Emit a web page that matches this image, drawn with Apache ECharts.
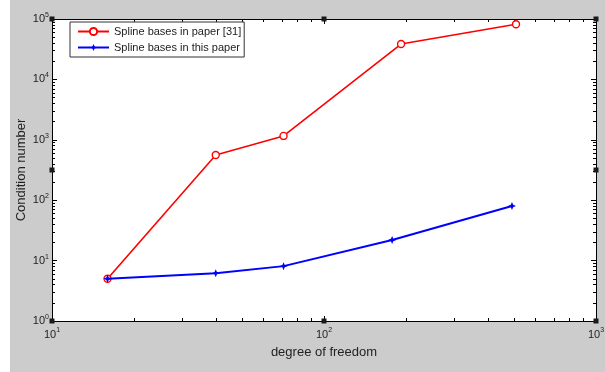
<!DOCTYPE html>
<html>
<head>
<meta charset="utf-8">
<script src="https://cdn.jsdelivr.net/npm/echarts@6/dist/echarts.min.js"></script>
<style>
  html, body { margin: 0; padding: 0; background: #ffffff; }
  #chart { position: absolute; left: 10px; top: 0; width: 595px; height: 372px; background: #cccccc; }
</style>
</head>
<body>
<div id="chart"></div>
<script>
// Degrees of freedom and condition numbers for the two spline bases
const dofPaper = [16, 40, 71, 192, 508];
const condPaper = [5, 560, 1160, 38500, 81700];
const dofThis = [16, 40, 71, 178, 491];
const condThis = [5, 6.2, 8.1, 21.9, 80];

const seriesNames = ['Spline bases in paper [31]', 'Spline bases in this paper'];
const xTitle = 'degree of freedom';
const yTitle = 'Condition number';

// Decade ticks and the 2..9 minor ticks between them
const xMajor = [10, 100, 1000];
const yMajor = [1, 10, 100, 1000, 10000, 100000];
function minorTicks(decades) {
  const out = [];
  for (let i = 0; i < decades.length - 1; i++) {
    for (let k = 2; k <= 9; k++) out.push(decades[i] * k);
  }
  return out;
}
const xMinor = minorTicks(xMajor);
const yMinor = minorTicks(yMajor);

const FONT = 'Liberation Sans, Arial, sans-serif';
const AX = '#000000';

function powLabel(v) {
  const e = Math.round(Math.log10(v));
  return '{b|10}{s|' + e + '}';
}
const richPow = {
  b: { fontSize: 11, fontFamily: FONT, color: '#222' },
  s: { fontSize: 7, fontFamily: FONT, color: '#222', padding: [0, 0, 8, 0] }
};

function logAxis(kind, pos, ticks, len, withLabels, extra) {
  const isX = kind === 'x';
  const ax = {
    type: 'log',
    logBase: 10,
    min: isX ? 10 : 1,
    max: isX ? 1000 : 100000,
    position: pos,
    axisLine: { show: true, onZero: false, lineStyle: { color: AX, width: 1 } },
    axisTick: { show: true, inside: true, length: len, customValues: ticks, lineStyle: { color: AX, width: 1 } },
    axisLabel: withLabels
      ? { show: true, customValues: ticks, formatter: powLabel, rich: richPow, margin: isX ? 6 : 3 }
      : { show: false },
    splitLine: { show: false },
    minorTick: { show: false }
  };
  return Object.assign(ax, extra || {});
}

const chart = echarts.init(document.getElementById('chart'), null, { renderer: 'canvas' });

const grid = { left: 42, top: 19, right: 9, bottom: 51 };

const option = {
  animation: false,
  backgroundColor: '#cccccc',
  grid: Object.assign({ backgroundColor: '#ffffff', show: true, borderWidth: 0, containLabel: false, outerBoundsMode: 'none' }, grid),
  legend: {
    left: 60, top: 22,
    orient: 'vertical',
    backgroundColor: '#ffffff',
    borderColor: '#333333',
    borderWidth: 1,
    borderRadius: 0,
    padding: [4, 3, 4, 7],
    itemWidth: 31,
    itemHeight: 9,
    itemGap: 5,
    textStyle: { fontSize: 11, fontFamily: FONT, color: '#222' },
    data: seriesNames
  },
  xAxis: [
    logAxis('x', 'bottom', xMajor, 5, true, {
      name: xTitle, nameLocation: 'middle', nameGap: 25, nameMoveOverlap: false,
      nameTextStyle: { fontSize: 13, fontFamily: FONT, color: '#222' }
    }),
    logAxis('x', 'bottom', xMinor, 3, false),
    logAxis('x', 'top', xMajor, 5, false),
    logAxis('x', 'top', xMinor, 3, false)
  ],
  yAxis: [
    logAxis('y', 'left', yMajor, 5, true, {
      name: yTitle, nameLocation: 'middle', nameGap: 24, nameMoveOverlap: false,
      nameTextStyle: { fontSize: 13, fontFamily: FONT, color: '#222' }
    }),
    logAxis('y', 'left', yMinor, 3, false),
    logAxis('y', 'right', yMajor, 5, false),
    logAxis('y', 'right', yMinor, 3, false)
  ],
  series: [
    {
      name: seriesNames[0],
      type: 'line',
      xAxisIndex: 0, yAxisIndex: 0,
      data: dofPaper.map((x, i) => [x, condPaper[i]]),
      lineStyle: { color: '#ff0000', width: 1.6 },
      itemStyle: { color: '#ffffff', borderColor: '#ff0000', borderWidth: 1.4 },
      symbol: 'circle',
      symbolSize: 7,
      z: 2
    },
    {
      name: seriesNames[1],
      type: 'line',
      xAxisIndex: 0, yAxisIndex: 0,
      data: dofThis.map((x, i) => [x, condThis[i]]),
      lineStyle: { color: '#0000ff', width: 2 },
      itemStyle: { color: '#0000ff', borderColor: '#0000ff', borderWidth: 0 },
      symbol: 'path://M0,-5L1.5,-1.5L5,0L1.5,1.5L0,5L-1.5,1.5L-5,0L-1.5,-1.5Z',
      symbolSize: 8,
      z: 3
    }
  ]
};
chart.setOption(option);

// Small square selection handles at the corners and edge midpoints of the axes box
(function drawHandles() {
  const W = chart.getWidth(), H = chart.getHeight();
  const l = grid.left, t = grid.top, r = W - grid.right, b = H - grid.bottom;
  const mx = (l + r) / 2, my = (t + b) / 2;
  const pts = [[l, t], [mx, t], [r, t], [l, my], [r, my], [l, b], [mx, b], [r, b]];
  const s = 5;
  chart.setOption({
    graphic: pts.map(p => ({
      type: 'rect',
      shape: { x: p[0] - s / 2, y: p[1] - s / 2, width: s, height: s },
      style: { fill: '#1a1a1a' },
      z: 100
    }))
  });
})();
</script>
</body>
</html>
